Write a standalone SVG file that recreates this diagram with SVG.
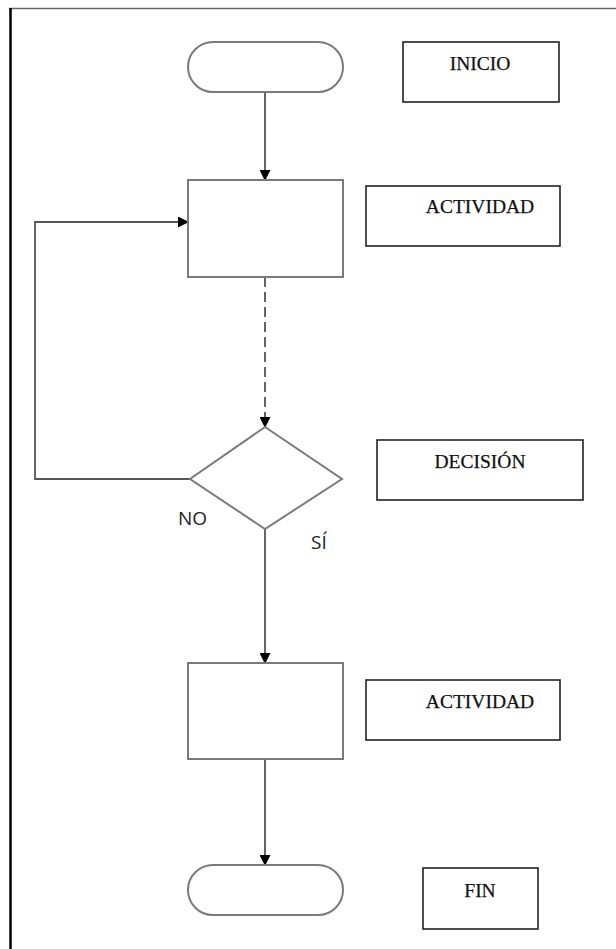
<svg xmlns="http://www.w3.org/2000/svg" width="616" height="949" viewBox="0 0 616 949">
<style>
.shape{fill:#fff;stroke:#7a7a7a;stroke-width:2}
.label{fill:#fff;stroke:#222;stroke-width:1.6}
.lt{font-family:"Liberation Serif","Times New Roman",serif;font-size:19.5px;fill:#111;stroke:#111;stroke-width:0.25;text-anchor:middle}
.st{font-family:"Open Sans","Liberation Sans",sans-serif;font-size:19px;fill:#222}
.conn{fill:none;stroke:#555;stroke-width:1.8}
</style>
<defs>
<marker id="arr" markerWidth="11" markerHeight="11" refX="10" refY="5.5" orient="auto" markerUnits="userSpaceOnUse">
<path d="M0,0 L11,5.5 L0,11 Z" fill="#000"/>
</marker>
</defs>
<rect width="616" height="949" fill="#fff"/>
<g id="frame">
<line x1="9" y1="8.5" x2="616" y2="8.5" stroke="#666" stroke-width="1.5"/>
<line x1="10.5" y1="8" x2="10.5" y2="949" stroke="#000" stroke-width="2.5"/>
</g>
<g id="connectors">
<line class="conn" x1="265" y1="92" x2="265" y2="180" marker-end="url(#arr)"/>
<line class="conn" x1="265" y1="277" x2="265" y2="427" stroke-width="2.2" stroke-dasharray="10,5" marker-end="url(#arr)"/>
<polyline class="conn" points="190,479 35,479 35,222 188,222" marker-end="url(#arr)"/>
<line class="conn" x1="265" y1="529" x2="265" y2="663" marker-end="url(#arr)"/>
<line class="conn" x1="265" y1="759" x2="265" y2="865" marker-end="url(#arr)"/>
</g>
<g id="start"><rect class="shape" x="188" y="42" width="155" height="50" rx="25"/></g>
<g id="activity1"><rect class="shape" x="188" y="180" width="155" height="97"/></g>
<g id="decision"><polygon class="shape" points="265,427 342,479 265,529 190,479"/></g>
<g id="activity2"><rect class="shape" x="188" y="663" width="155" height="96"/></g>
<g id="end"><rect class="shape" x="188" y="865" width="155" height="50" rx="25"/></g>
<g id="label-inicio"><rect class="label" x="403" y="42" width="156" height="60"/><text class="lt" x="480" y="70">INICIO</text></g>
<g id="label-actividad1"><rect class="label" x="366" y="186" width="194" height="60"/><text class="lt" x="480" y="213">ACTIVIDAD</text></g>
<g id="label-decision"><rect class="label" x="377" y="440" width="206" height="60"/><text class="lt" x="480" y="468">DECISIÓN</text></g>
<g id="label-actividad2"><rect class="label" x="366" y="680" width="194" height="60"/><text class="lt" x="480" y="708">ACTIVIDAD</text></g>
<g id="label-fin"><rect class="label" x="423" y="868" width="115" height="61"/><text class="lt" x="480" y="897">FIN</text></g>
<g id="edge-labels">
<text class="st" x="178" y="525">NO</text>
<text class="st" x="311" y="549">SÍ</text>
</g>
</svg>
